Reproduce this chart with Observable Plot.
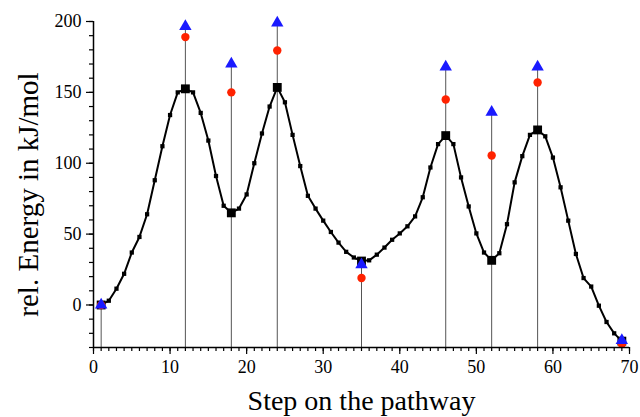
<!DOCTYPE html>
<html><head><meta charset="utf-8">
<script src="https://cdn.jsdelivr.net/npm/d3@7"></script>
<script src="https://cdn.jsdelivr.net/npm/@observablehq/plot@0.6"></script>
<style>body{margin:0;background:#fff}</style>
</head><body><div id="chart"></div>
<script>
// Energy along the pathway, steps 1..69
const energy = [
  0, 3, 11.5, 22, 37, 48, 64, 88, 112, 134,
  150, 152.5, 150, 135.5, 116, 91, 70, 65, 68, 78,
  100, 121, 140, 153.5, 143, 120, 98, 77, 68, 59.5,
  51.5, 44, 37.5, 33.5, 31, 31.5, 35.5, 40.5, 46, 50.5,
  55.5, 62.5, 76, 97, 113.5, 119.5, 113.5, 90, 69.5, 50.5,
  37, 31.5, 36.5, 57, 86.5, 105, 120, 123.5, 119, 104,
  83, 59.5, 36, 19, 13, -0.5, -12, -20, -25.5
];
const keySteps = [1, 12, 18, 24, 35, 46, 52, 58, 69];
const redValues = [0, 189, 150, 179.5, 19, 145, 105.5, 157, -27.5];
const blueValues = [0, 196.5, 170, 199, 28.5, 168, 136, 168, -25];
const xTicks = [0, 10, 20, 30, 40, 50, 60, 70];
const yTicks = [0, 50, 100, 150, 200];
const xMinor = d3.range(0, 71, 1);
const yMinor = d3.range(-30, 201, 10);
const xTitle = "Step on the pathway";
const yTitle = "rel. Energy in kJ/mol";

const path = energy.map((e, i) => ({step: i + 1, e}));
const keys = keySteps.map((s, i) => ({step: s, e: energy[s - 1], red: redValues[i], blue: blueValues[i]}));

const font = "'Liberation Serif', 'Times New Roman', serif";
const chart = Plot.plot({
  width: 640, height: 417,
  marginLeft: 93, marginRight: 11, marginTop: 21, marginBottom: 70,
  style: {fontFamily: font, fontSize: "18px", background: "#fff", color: "#000"},
  x: {domain: [0, 70]},
  y: {domain: [-30, 200]},
  marks: [
    Plot.ruleX(keys, {x: "step", y1: -30, y2: "blue", stroke: "#555", strokeWidth: 1}),
    Plot.line(path, {x: "step", y: "e", stroke: "#000", strokeWidth: 2}),
    Plot.dot(path, {x: "step", y: "e", symbol: "square", r: 2.4, fill: "#000"}),
    Plot.dot(keys, {x: "step", y: "e", symbol: "square", r: 5, fill: "#000"}),
    Plot.dot(keys, {x: "step", y: "red", r: 4.2, fill: "#ff2200"}),
    Plot.dot(keys, {x: "step", y: "blue", symbol: "triangle", r: 4.6, fill: "#1a1aff"}),
    Plot.axisX({ticks: xMinor, tickSize: 4, tickFormat: () => "", label: null, strokeWidth: 1.2}),
    Plot.axisX({ticks: xTicks, tickSize: 7, tickPadding: 6, label: null, strokeWidth: 1.2}),
    Plot.axisY({ticks: yMinor, tickSize: 4, tickFormat: () => "", label: null, strokeWidth: 1.2}),
    Plot.axisY({ticks: yTicks, tickSize: 7, tickPadding: 5, label: null, strokeWidth: 1.2}),
    Plot.ruleY([-30], {stroke: "#000", strokeWidth: 1.5}),
    Plot.ruleX([0], {stroke: "#000", strokeWidth: 1.5}),
    Plot.text([xTitle], {frameAnchor: "bottom", dy: 62, lineAnchor: "bottom", textAnchor: "middle", fontSize: 28, fontFamily: font, fill: "#000"}),
    Plot.text([yTitle], {frameAnchor: "left", rotate: -90, dx: -65, dy: 10, textAnchor: "middle", lineAnchor: "middle", fontSize: 29, fontFamily: font, fill: "#000"})
  ]
});
document.getElementById("chart").appendChild(chart);
</script>
</body></html>
